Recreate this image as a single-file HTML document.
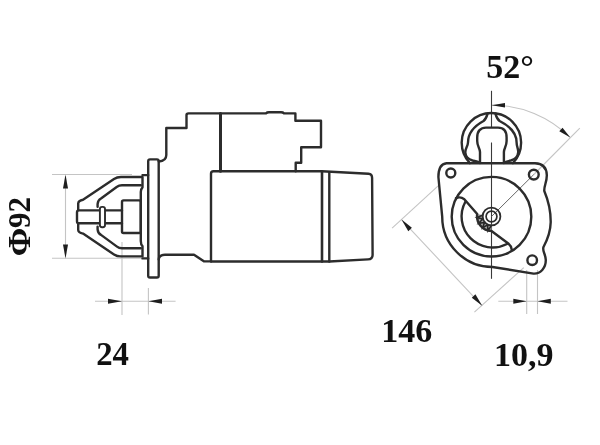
<!DOCTYPE html>
<html><head><meta charset="utf-8">
<style>
html,body{margin:0;padding:0;background:#fff;width:600px;height:445px;overflow:hidden}
svg{display:block}
.d{fill:none;stroke:#2c2c2c;stroke-width:2.4;stroke-linejoin:round;stroke-linecap:round}
.g{fill:none;stroke:#c4c4c4;stroke-width:1.1}
.c{fill:none;stroke:#3a3a3a;stroke-width:1.1}
.ar{fill:#1e1e1e;stroke:none}
text{font-family:"Liberation Serif",serif;font-weight:bold;fill:#111}
svg{will-change:transform}
</style></head><body>
<svg width="600" height="445" viewBox="0 0 600 445">
<!-- ========== SIDE VIEW ========== -->
<!-- dimension gray lines -->
<line class="g" x1="52" y1="174.5" x2="132" y2="174.5"/>
<line class="g" x1="52" y1="258.3" x2="142" y2="258.3"/>
<line class="g" x1="65.5" y1="176" x2="65.5" y2="257"/>
<polygon class="ar" points="65.5,174.5 63,188.5 68,188.5"/>
<polygon class="ar" points="65.5,258.5 63,244.5 68,244.5"/>
<line class="g" x1="122" y1="242" x2="122" y2="315"/>
<line class="g" x1="148.4" y1="288" x2="148.4" y2="314.5"/>
<line class="g" x1="95" y1="301.3" x2="175.6" y2="301.3"/>
<polygon class="ar" points="122,301.3 108,298.8 108,303.8"/>
<polygon class="ar" points="148.4,301.3 162,298.8 162,303.8"/>

<!-- nose outer -->
<path class="d" d="M78.2 210 V203.5 Q78.4 200.6 83 199.8 L114 179 Q117 177 121 177 H142.5 V187.3 Q140.8 189 140.8 192 V241 Q140.8 244.5 142.5 246.1 V256.4 H121 Q117 256.4 114 254.4 L83 233.6 Q78.4 232.8 78.2 230 V223.4"/>
<path class="d" d="M142.5 175.1 H148.2 M142.5 258.4 H148.2"/>
<!-- nose inner -->
<path class="d" d="M97.6 206.8 V204 Q98 200 101 198.5 L117 186.8 Q119 185.2 122 185.2 H140.8 M97.6 226.6 V229.4 Q98 233.4 101 234.9 L117 246.6 Q119 248.2 122 248.2 H140.8"/>
<!-- shaft -->
<path class="d" d="M122 210.4 H78.8 Q77 210.4 77 212.4 V221.2 Q77 223.3 78.8 223.3 H122"/>
<!-- collar -->
<rect class="d" x="99.9" y="206.9" width="5.1" height="20.3" rx="2.2" style="fill:#fff;stroke-width:1.9"/>
<!-- pinion box -->
<rect class="d" x="122" y="200.4" width="18.8" height="32.6" rx="1.5"/>
<!-- flange -->
<rect class="d" x="148.2" y="159.4" width="10.5" height="118.1" rx="1.8"/>
<!-- housing -->
<path class="d" d="M158.7 161.5 Q166.3 161 166.3 155 V128 H186.5 V115 Q186.5 113.4 188.5 113.4 H266 Q267 112.3 269 112.3 H281 Q283 112.3 284 113.4 H295.4 V120.8 H321 V147.2 H301.2 V162.8 H295.7 V171.3"/>
<path class="d" d="M158.7 259.5 Q159 254.7 165 254.7 H194 L204.2 261.4 H211"/>
<line class="d" x1="220.5" y1="113.4" x2="220.5" y2="171.2" style="stroke-width:3"/>
<!-- motor -->
<path class="d" d="M211 261.5 V173.8 Q211 171.3 213.5 171.3 H322 L368.5 173.8 Q372.1 174 372.1 178 L372.6 255 Q372.6 259.2 368 259.4 L329.3 261.5 H211"/>
<line class="d" x1="322" y1="172" x2="322" y2="261.5" style="stroke-width:2.6"/>
<line class="d" x1="329.3" y1="172.2" x2="329.3" y2="261.5"/>

<!-- ========== END VIEW ========== -->
<!-- gray dims -->
<path class="g" d="M491.5 105 A111.5 111.5 0 0 1 570.3 137.6"/>
<polygon class="ar" points="491.5,105.2 505,103 505,107.6"/>
<polygon class="ar" points="570.3,137.6 562.5,127.7 559.3,131.3"/>
<line class="g" x1="533.8" y1="174.5" x2="579.8" y2="128.2"/>
<line class="g" x1="438.4" y1="185.7" x2="392.1" y2="228.2"/>
<line class="g" x1="523.8" y1="267.6" x2="474.4" y2="312.1"/>
<line class="g" x1="401.5" y1="219.6" x2="482.2" y2="305.8"/>
<polygon class="ar" points="401.5,219.6 408.3,231.2 411.9,227.7"/>
<polygon class="ar" points="482.2,305.8 475.4,294.2 471.8,297.7"/>
<line class="g" x1="526.7" y1="270" x2="526.7" y2="314"/>
<line class="g" x1="537.5" y1="270" x2="537.5" y2="314"/>
<line class="g" x1="498.3" y1="301.3" x2="567.5" y2="301.3"/>
<polygon class="ar" points="526.7,301.3 513.3,298.8 513.3,303.8"/>
<polygon class="ar" points="537.5,301.3 550.8,298.8 550.8,303.8"/>

<!-- center lines -->
<line class="c" x1="491.5" y1="90.8" x2="491.5" y2="127.5"/><line class="c" x1="491.5" y1="142.5" x2="491.5" y2="278.8"/>
<line class="c" x1="491.5" y1="216.5" x2="533.8" y2="174.5" style="stroke:#666;stroke-width:1"/>

<!-- terminal -->
<path class="d" d="M469.9 163.2 A29.7 29.7 0 1 1 512.9 163.2"/>
<path class="d" d="M487.6 113.6 C486.8 116.5 486.2 119 483.5 121 C473.5 126.5 468 134 468 142.5 C467.8 146.5 465.2 148.5 465.3 152.3 C465.5 156.3 468.5 159.3 472.5 160.5 Q477 161.3 480 162.5"/>
<path class="d" d="M495.4 113.6 C496.2 116.5 496.8 119 499.6 121 C510.5 126.5 516.6 134 516.6 142.5 C516.6 146.5 518.4 148.5 518.2 152.3 C517.9 156.3 515 159.3 510.8 160.5 Q506.8 161.3 503.9 162.5"/>
<path class="d" d="M480 163 V152 C480 148.5 477.2 146.5 477.2 141 V137.5 C477.2 131 480.5 127.6 486 127.6 H498 C503.5 127.6 506.6 131 506.6 137.5 V141 C506.6 146.5 503.9 148.5 503.9 152 V163"/>

<!-- flange outline -->
<path class="d" d="M446.5 163.3 H535 Q546.5 163.8 546.8 175 C547 182 543.8 186 544.3 191 C548.5 201 550.8 212 550.7 222.3 C550.5 232 547 240.5 543.5 247 C542 251 545.8 254.5 545.8 260 C545.8 268 540.5 274 533.5 273.6 L492.5 267 A50.3 50.3 0 0 1 442.2 216.7 L438.4 177 Q438.5 164 446.5 163.3 Z"/>
<circle class="d" cx="450.8" cy="173" r="4.5"/>
<circle class="d" cx="533.8" cy="174.6" r="4.9"/>
<circle class="d" cx="532.2" cy="260.2" r="4.8"/>
<!-- big circle -->
<circle class="d" cx="491.5" cy="216.7" r="39.8"/>
<!-- lever -->
<path d="M476.9 213.9 A14.8 14.8 0 0 0 491.5 231.3 L491.5 224.5 A8 8 0 0 1 483.6 215.1 Z" fill="#a8a8a8"/>
<polyline points="491.2,225.7 488.0,230.6 487.5,224.8 482.6,227.9 484.5,222.4 478.7,223.3 482.7,219.0 477.0,217.5 482.4,215.2" fill="none" stroke="#262626" stroke-width="1.6" stroke-linejoin="miter"/>
<path class="d" d="M456 198.2 Q460.5 196.2 464.3 199.2 L477.2 214 A14.8 14.8 0 0 0 491.5 231 L508.3 243.5 Q511.3 246 511.8 249.8"/>
<path class="d" d="M465.5 201.5 A31 31 0 0 0 507 244"/>
<!-- center rings -->
<circle class="d" cx="491.5" cy="216.5" r="8.9" style="stroke-width:1.8"/>
<circle class="d" cx="491.5" cy="216.5" r="5.4" style="stroke-width:1.7"/>

<!-- ========== TEXT ========== -->
<text x="486.2" y="77.5" font-size="34">52°</text>
<text transform="translate(381.2 341.6) scale(1 1.015)" font-size="34">146</text>
<text transform="translate(96.2 364.5) scale(0.965 0.985)" font-size="34">24</text>
<text x="493.9" y="366" font-size="34">10,9</text>
<g transform="translate(30 255) rotate(-90)"><text transform="translate(13 0) scale(1.11 1) translate(-12.8 0)" x="0" y="0" font-size="31">Φ</text><text x="26.9" y="0" font-size="31">92</text></g>
</svg>
</body></html>
